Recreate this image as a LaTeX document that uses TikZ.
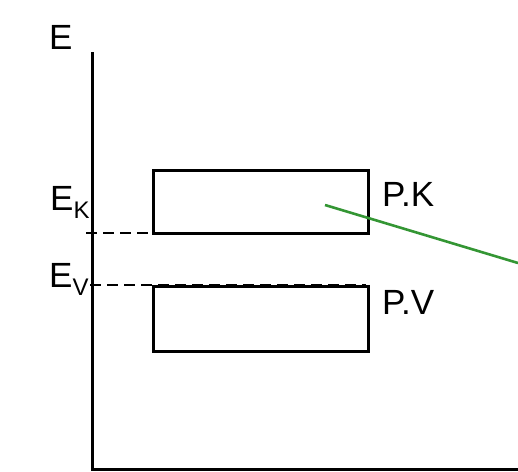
\documentclass[tikz,border=0pt]{standalone}
\usepackage{fontspec}
\setmainfont{Liberation Sans}
\definecolor{linegreen}{RGB}{52,150,52}
\begin{document}
\begin{tikzpicture}[x=1pt,y=-1pt,
  axis/.style={line width=3pt,black},
  band/.style={draw=black,line width=3pt,fill=white,minimum width=215pt,minimum height=63pt,inner sep=0pt,outer sep=0pt,anchor=north west},
  level/.style={line width=2.6pt,dash pattern=on 11pt off 6pt},
  lbl/.style={inner sep=0pt,anchor=base west,font=\fontsize{35}{38}\selectfont},
  sub/.style={}]
\useasboundingbox[fill=white] (0,0) rectangle (518,471);
% axes
\coordinate (top) at (92,52);
\coordinate (origin) at (92,469);
\coordinate (xend) at (518,469);
\draw[axis] (top) -- (origin) -- (xend);
% bands
\node[band] (pk) at (153,170) {};
\node[band,minimum height=65pt] (pv) at (153,286) {};
% levels
\coordinate (ek) at (86,233);
\coordinate (ev) at (90,285);
\coordinate (evend) at (366,285);
\draw[level] (ek) -- (pk.south west);
\draw[level] (ev) -- (evend);
% labels
\node[lbl] (E) at (49,49) {E};
\node[lbl] (EK) at (50,210) {E\raisebox{-8pt}{\fontsize{24}{26}\selectfont K}};
\node[lbl] (EV) at (49,287) {E\raisebox{-8pt}{\fontsize{24}{26}\selectfont V}};
\node[lbl] (PK) at (382,206) {P.K};
\node[lbl] (PV) at (382,314) {P.V};
% green pointer
\coordinate (gstart) at (325,205);
\coordinate (gend) at (518,263);
\draw[linegreen,line width=2.6pt] (gstart) -- (gend);
\end{tikzpicture}
\end{document}
